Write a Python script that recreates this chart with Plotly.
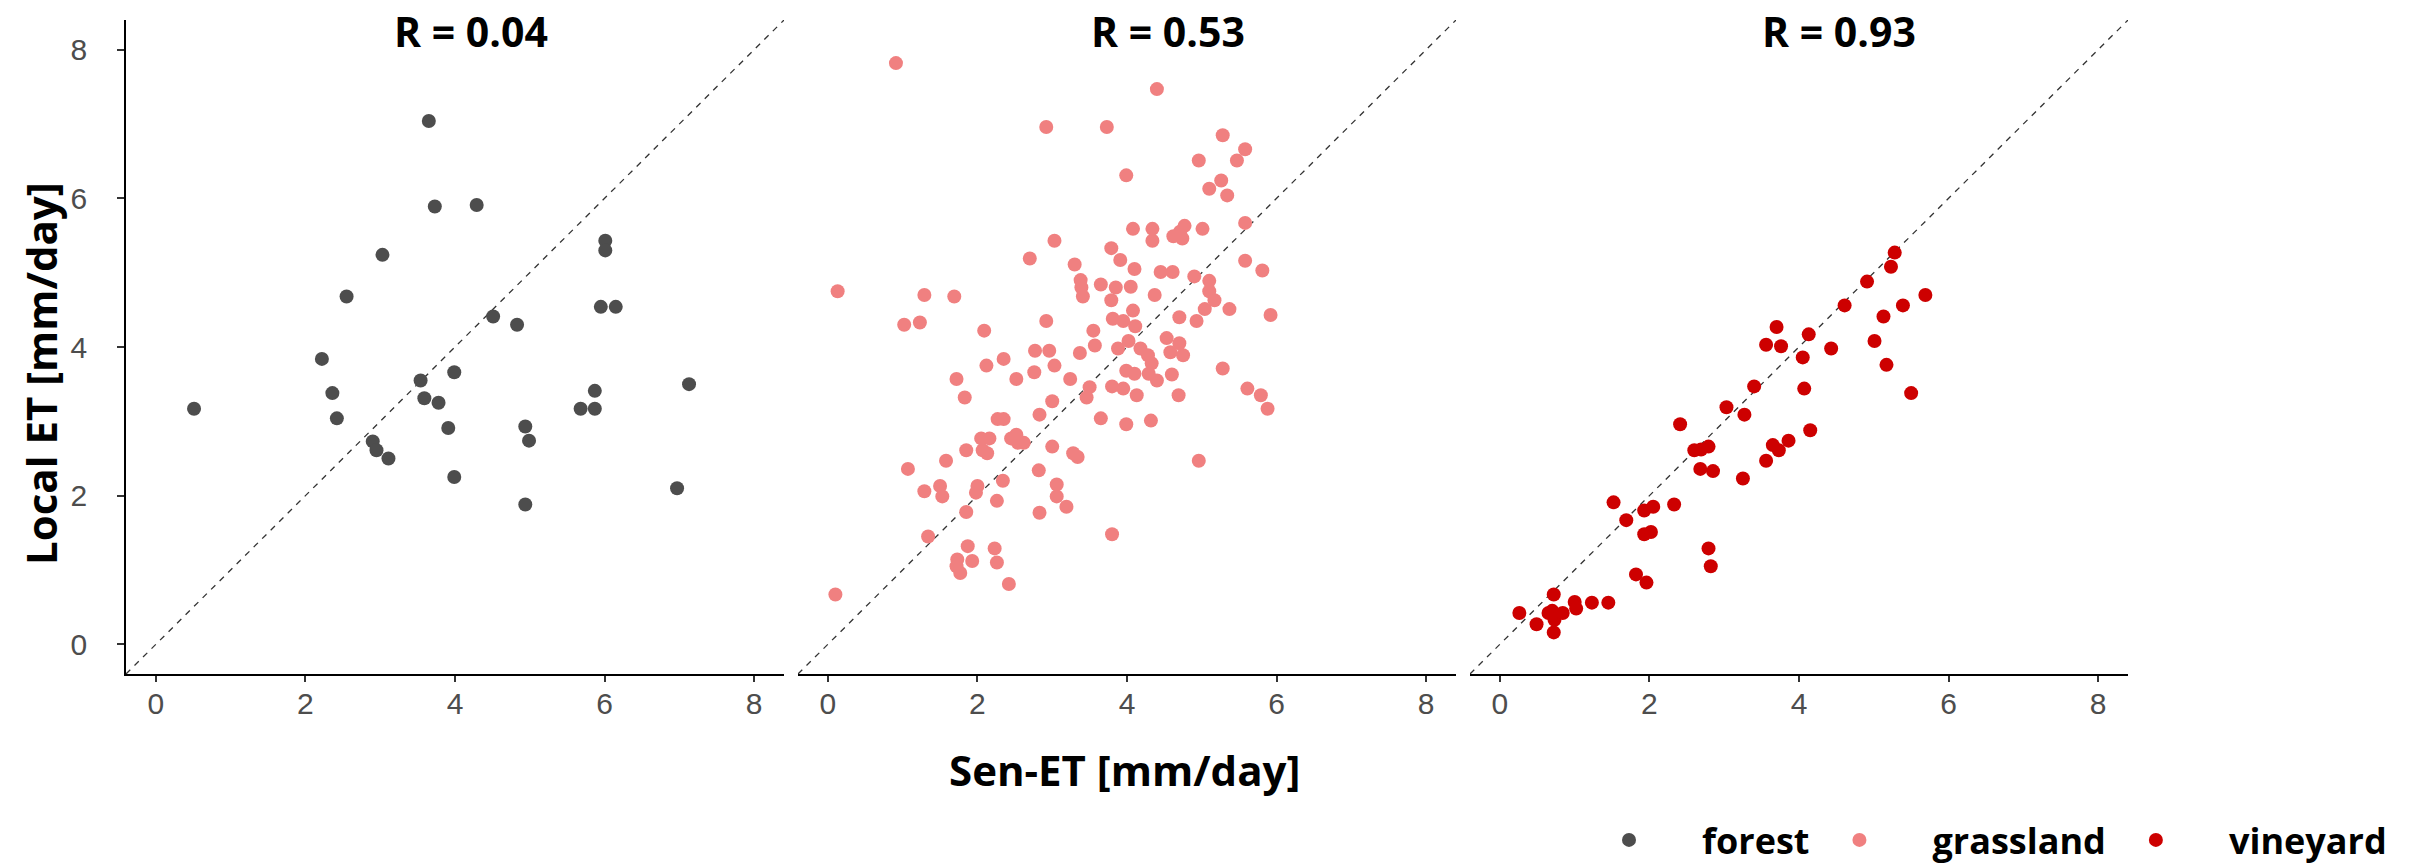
import plotly.graph_objects as go

# ---------------- data ----------------
classes = ["forest", "grassland", "vineyard"]
class_colors = ["#4D4D4D", "#F08080", "#CD0000"]
r_labels = ["R = 0.04", "R = 0.53", "R = 0.93"]
r_label_x = [4.22, 4.55, 4.54]
r_label_y = 8.25

forest_sen = [0.51, 3.65, 3.73, 4.29, 3.03, 2.55, 4.51, 4.83, 6.01, 6.01, 5.95, 6.15,
              2.22, 3.99, 3.54, 2.36, 3.59, 3.78, 5.87, 7.13, 5.68, 5.87, 2.42, 3.91,
              4.94, 4.99, 2.90, 2.95, 3.11, 3.99, 6.97, 4.94]
forest_local = [3.17, 7.04, 5.89, 5.91, 5.24, 4.68, 4.41, 4.30, 5.43, 5.30, 4.54, 4.54,
                3.84, 3.66, 3.55, 3.38, 3.31, 3.25, 3.41, 3.50, 3.17, 3.17, 3.04, 2.91,
                2.93, 2.74, 2.73, 2.61, 2.50, 2.25, 2.10, 1.88]

grass_sen = [0.91, 4.40, 2.92, 3.73, 5.28, 5.58, 4.96, 5.47, 3.99, 5.26, 5.10, 5.34,
             5.58, 4.08, 4.34, 4.34, 4.77, 4.71, 4.62, 4.74, 5.01, 3.03, 3.79, 2.70,
             3.91, 3.30, 4.10, 5.58, 4.45, 4.61, 5.81, 4.90, 5.10, 3.38, 3.39, 3.65,
             3.85, 4.05, 0.13, 1.29, 1.69, 3.41, 3.79, 4.37, 5.10, 5.17, 5.04, 5.37,
             5.92, 4.08, 4.70, 4.93, 2.92, 3.81, 3.95, 4.11, 1.02, 1.23, 2.09, 3.55,
             3.57, 4.02, 4.53, 4.70, 3.88, 4.18, 4.28, 4.58, 4.75, 2.77, 2.96, 3.37,
             2.35, 2.12, 3.03, 4.33, 3.99, 4.10, 4.29, 4.60, 5.28, 2.76, 1.72, 2.52,
             3.24, 4.40, 3.50, 3.80, 3.95, 5.61, 1.83, 3.46, 4.13, 4.69, 5.79, 3.00,
             5.88, 2.83, 2.27, 2.35, 3.65, 4.32, 3.99, 2.05, 2.16, 2.45, 2.52, 2.54,
             2.62, 1.85, 2.07, 2.13, 3.00, 3.28, 3.34, 1.58, 4.96, 1.07, 2.82, 2.34,
             1.50, 1.29, 2.00, 1.98, 1.53, 3.06, 3.06, 2.26, 3.19, 1.85, 2.83, 3.80,
             1.34, 1.87, 2.23, 1.73, 1.93, 2.26, 1.72, 1.77, 2.42, 0.10]
grass_local = [7.82, 7.47, 6.96, 6.96, 6.85, 6.66, 6.51, 6.51, 6.31, 6.24, 6.13, 6.04,
               5.67, 5.59, 5.59, 5.43, 5.63, 5.55, 5.49, 5.46, 5.59, 5.43, 5.33, 5.19,
               5.17, 5.11, 5.05, 5.16, 5.01, 5.01, 5.03, 4.95, 4.89, 4.90, 4.80, 4.84,
               4.80, 4.81, 4.75, 4.70, 4.68, 4.68, 4.63, 4.70, 4.75, 4.63, 4.51, 4.51,
               4.43, 4.49, 4.40, 4.35, 4.35, 4.38, 4.35, 4.28, 4.30, 4.33, 4.22, 4.22,
               4.02, 4.08, 4.12, 4.05, 3.98, 3.98, 3.89, 3.93, 3.89, 3.95, 3.95, 3.92,
               3.84, 3.75, 3.75, 3.78, 3.68, 3.64, 3.64, 3.63, 3.71, 3.66, 3.57, 3.57,
               3.57, 3.55, 3.46, 3.47, 3.44, 3.44, 3.32, 3.32, 3.35, 3.35, 3.35, 3.27,
               3.17, 3.09, 3.03, 3.03, 3.04, 3.01, 2.96, 2.77, 2.77, 2.77, 2.82, 2.71,
               2.71, 2.61, 2.61, 2.57, 2.66, 2.57, 2.52, 2.47, 2.47, 2.36, 2.34, 2.20,
               2.13, 2.06, 2.13, 2.04, 1.99, 2.15, 1.99, 1.93, 1.85, 1.78, 1.77, 1.48,
               1.45, 1.32, 1.29, 1.14, 1.12, 1.10, 1.05, 0.96, 0.81, 0.67]

vine_sen = [5.28, 5.23, 4.91, 5.69, 4.61, 5.39, 5.13, 3.70, 4.13, 3.56, 3.76, 4.43,
            5.01, 4.05, 5.17, 3.40, 4.07, 5.50, 3.03, 3.27, 2.41, 4.15, 3.86, 3.65,
            3.73, 3.56, 2.79, 2.60, 2.69, 2.68, 2.85, 3.25, 1.52, 2.33, 1.93, 2.05,
            1.69, 1.93, 2.02, 2.79, 2.82, 1.82, 1.96, 0.72, 0.26, 0.49, 0.65, 0.70,
            0.73, 0.84, 0.72, 1.00, 1.02, 1.23, 1.45]
vine_local = [5.27, 5.08, 4.88, 4.70, 4.56, 4.56, 4.41, 4.27, 4.17, 4.03, 4.01, 3.98,
              4.08, 3.86, 3.76, 3.47, 3.44, 3.38, 3.19, 3.09, 2.96, 2.88, 2.74, 2.68,
              2.61, 2.47, 2.66, 2.61, 2.62, 2.36, 2.33, 2.23, 1.91, 1.88, 1.80, 1.85,
              1.67, 1.48, 1.51, 1.29, 1.05, 0.94, 0.83, 0.67, 0.42, 0.27, 0.42, 0.45,
              0.33, 0.42, 0.16, 0.57, 0.48, 0.56, 0.56]

sen_values = [forest_sen, grass_sen, vine_sen]
local_values = [forest_local, grass_local, vine_local]

axis_range = [-0.4, 8.4]
tick_values = [0, 2, 4, 6, 8]

# ---------------- figure ----------------
W, H = 2412, 865
ml, mr, mt, mb = 126, 284, 20, 191
pw = W - ml - mr
ph = H - mt - mb
domains = [[0, 658 / pw], [672 / pw, 1330 / pw], [1344 / pw, 1.0]]
tick_font = dict(family="Liberation Sans", size=30, color="#4D4D4D")
key_pad = "\u00a0" * 3

fig = go.Figure()

for i, cls in enumerate(classes):
    sfx = "" if i == 0 else str(i + 1)
    fig.add_trace(go.Scatter(
        x=sen_values[i], y=local_values[i], mode="markers", name=key_pad + cls,
        marker=dict(color=class_colors[i], size=14, line=dict(width=0)),
        xaxis="x" + sfx, yaxis="y" + sfx, cliponaxis=False,
    ))
    # 1:1 reference line
    fig.add_shape(type="line", xref="x" + sfx, yref="y" + sfx,
                  x0=axis_range[0], y0=axis_range[0], x1=axis_range[1], y1=axis_range[1],
                  line=dict(color="#333333", width=1.3, dash="6px,6px"), layer="below")
    fig.add_annotation(text=r_labels[i], xref="x" + sfx, yref="y" + sfx,
                       x=r_label_x[i], y=r_label_y, showarrow=False,
                       xanchor="center", yanchor="middle",
                       font=dict(family="Open Sans", size=41, color="black", weight=700))

    xa = dict(domain=domains[i], range=axis_range, tickvals=tick_values,
              showline=True, linecolor="black", linewidth=1.6,
              ticks="outside", ticklen=6, tickwidth=1.5, tickcolor="#333333",
              showgrid=False, zeroline=False, anchor="y" + sfx, automargin=False,
              ticklabelstandoff=-4, tickfont=tick_font)
    ya = dict(domain=[0, 1], range=axis_range, showgrid=False, zeroline=False,
              anchor="x" + sfx, automargin=False)
    if i == 0:
        ya.update(tickvals=tick_values, showline=True, linecolor="black", linewidth=1.6,
                  ticks="outside", ticklen=7, tickwidth=1.5, tickcolor="#333333",
                  ticklabelstandoff=24, tickfont=tick_font)
    else:
        ya.update(visible=False)
    fig.update_layout({"xaxis" + sfx: xa, "yaxis" + sfx: ya})

# axis titles
fig.add_annotation(text="Sen-ET [mm/day]", xref="paper", yref="paper",
                   x=(1124 - ml) / pw, y=-(769 - (H - mb)) / ph,
                   showarrow=False, xanchor="center", yanchor="middle",
                   font=dict(family="Open Sans", size=42, color="black", weight=700))
fig.add_annotation(text="Local ET [mm/day]", xref="paper", yref="paper",
                   x=(40 - ml) / pw, y=((H - mb) - 374) / ph,
                   textangle=-90, showarrow=False, xanchor="center", yanchor="middle",
                   font=dict(family="Open Sans", size=42, color="black", weight=700))

fig.update_layout(
    width=W, height=H,
    margin=dict(l=ml, r=mr, t=mt, b=mb, pad=0, autoexpand=False),
    paper_bgcolor="white", plot_bgcolor="white",
    showlegend=True,
    legend=dict(orientation="h", xanchor="right", yanchor="middle",
                x=(2392 - ml) / pw, y=-((840 - (H - mb)) / ph),
                itemsizing="trace", itemwidth=80,
                font=dict(family="Open Sans", size=36, color="black", weight=700),
                bgcolor="rgba(0,0,0,0)"),
)

fig.write_html("out.html")
